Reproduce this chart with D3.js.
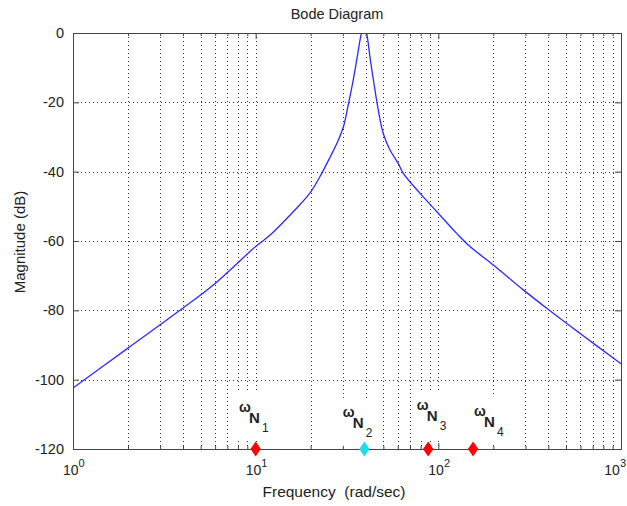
<!DOCTYPE html>
<html>
<head>
<meta charset="utf-8">
<script src="https://cdn.jsdelivr.net/npm/d3@7"></script>
<style>
  html, body { margin: 0; padding: 0; background: #fff; }
  svg { display: block; }
  text { font-family: "Liberation Sans", Arial, Helvetica, sans-serif; fill: #222; white-space: pre; }
</style>
</head>
<body>
<svg id="chart" width="627" height="506"></svg>
<script>
// ---- data ----
const freq = [1, 2, 3.85, 5.86, 10, 12, 16.1, 19.8, 22.5, 25.5, 28.3, 30.4, 32.1, 34.2, 36.0, 37.6, 39.2,
              40.8, 42.2, 44.4, 46.9, 49.9, 54.3, 60.3, 64.3, 79.3, 97.9, 126, 149, 200, 292, 392, 595, 1000];
const magDb = [-102.4, -90.9, -80.0, -72.7, -61.6, -58.3, -51.5, -46.2, -41.4, -35.9, -31.0, -26.6, -20.8, -13.6, -6.8, -1, 3,
               -1, -6.8, -14.5, -22.2, -28.9, -33.7, -37.6, -40.5, -46.2, -51.5, -57.8, -61.6, -66.9, -74.1, -79.4, -86.6, -95.4];

const markerFreq = [10, 39.4, 88, 155];
const markerColor = ["#ff0000", "#22dde6", "#ff0000", "#ff0000"];
const markerSub = ["1", "2", "3", "4"];
// annotation anchors (data coordinates: frequency, dB of the "N" baseline)
const labelFreq = [8.1, 30.0, 76.3, 156.6];
const labelDb = [-112.5, -113.9, -111.9, -113.6];

const xMajor = [1, 10, 100, 1000];
const xExp = ["0", "1", "2", "3"];
const yTicks = [-120, -100, -80, -60, -40, -20, 0];

const titleText = "Bode Diagram";
const xLabel = "Frequency  (rad/sec)";
const yLabel = "Magnitude (dB)";

// ---- layout ----
const L = 73, R = 621, T = 33, B = 449, W = 627;
const svg = d3.select("#chart");

const x = d3.scaleLog().domain([1, 1000]).range([L, R]);
const y = d3.scaleLinear().domain([-120, 0]).range([B, T]);

const allX = x.ticks(); // 1..9, 10..90, 100..1000
const minorX = allX.filter(v => !xMajor.includes(v));

// grid
const grid = svg.append("g").attr("stroke", "#333").attr("stroke-width", 1)
  .attr("stroke-dasharray", "1,3").attr("fill", "none");
grid.selectAll("line.v").data(allX.filter(v => v > 1 && v < 1000)).join("line")
  .attr("x1", d => Math.round(x(d)) + 0.5).attr("x2", d => Math.round(x(d)) + 0.5)
  .attr("y1", T).attr("y2", B);
grid.selectAll("line.h").data(yTicks.filter(v => v > -120 && v < 0)).join("line")
  .attr("x1", L).attr("x2", R)
  .attr("y1", d => Math.round(y(d)) + 0.5).attr("y2", d => Math.round(y(d)) + 0.5);

// curve
svg.append("clipPath").attr("id", "clip").append("rect")
  .attr("x", L).attr("y", T).attr("width", R - L).attr("height", B - T);
const pts = freq.map((f, i) => [f, magDb[i]]);
svg.append("path").datum(pts)
  .attr("clip-path", "url(#clip)")
  .attr("fill", "none").attr("stroke", "#2a2aff").attr("stroke-width", 1.3)
  .attr("d", d3.line().x(d => x(d[0])).y(d => y(d[1])).curve(d3.curveCatmullRom.alpha(0.5)));

// annotation labels with white background
const ann = svg.append("g");
markerFreq.forEach((mf, i) => {
  const g = ann.append("g");
  const ax = x(labelFreq[i]);
  const by = y(labelDb[i]);
  const bg = g.append("rect").attr("fill", "#fff");
  const t = g.append("text").attr("x", ax).attr("y", by - 11);
  t.append("tspan").text("ω").attr("font-size", "14px").attr("font-weight", "bold");
  t.append("tspan").text("N").attr("font-size", "15px").attr("font-weight", "bold")
    .attr("x", ax + 10).attr("y", by);
  t.append("tspan").text(markerSub[i]).attr("font-size", "12px")
    .attr("x", ax + 23).attr("y", by + 9);
  const bb = t.node().getBBox();
  bg.attr("x", bb.x - 3).attr("y", bb.y - 6).attr("width", bb.width + 6).attr("height", bb.height + 12);
});

// axes box
svg.append("rect").attr("x", L + 0.5).attr("y", T + 0.5).attr("width", R - L).attr("height", B - T)
  .attr("fill", "none").attr("stroke", "#444").attr("stroke-width", 1);

function styleAxis(g) {
  g.select(".domain").remove();
  g.selectAll(".tick line").attr("stroke", "#444");
}
// bottom/top ticks
svg.append("g").attr("transform", `translate(0,${B})`)
  .call(d3.axisBottom(x).tickValues(xMajor).tickSize(-6).tickFormat("")).call(styleAxis);
svg.append("g").attr("transform", `translate(0,${B})`)
  .call(d3.axisBottom(x).tickValues(minorX).tickSize(-3).tickFormat("")).call(styleAxis);
svg.append("g").attr("transform", `translate(0,${T})`)
  .call(d3.axisTop(x).tickValues(xMajor).tickSize(-6).tickFormat("")).call(styleAxis);
svg.append("g").attr("transform", `translate(0,${T})`)
  .call(d3.axisTop(x).tickValues(minorX).tickSize(-3).tickFormat("")).call(styleAxis);
// left/right ticks
const yl = svg.append("g").attr("transform", `translate(${L},0)`)
  .call(d3.axisLeft(y).tickValues(yTicks).tickSize(-6).tickPadding(9).tickFormat(d => String(d)))
  .call(styleAxis);
yl.selectAll(".tick text").attr("font-size", "14.5px").attr("fill", "#222")
  .attr("font-family", "Liberation Sans, Arial, sans-serif");
svg.append("g").attr("transform", `translate(${R},0)`)
  .call(d3.axisRight(y).tickValues(yTicks).tickSize(-6).tickFormat("")).call(styleAxis);

// x tick labels 10^n
const xl = svg.append("g");
xMajor.forEach((v, i) => {
  const t = xl.append("text").attr("x", x(v) - 10).attr("y", 475).attr("font-size", "14px");
  t.append("tspan").text("10");
  t.append("tspan").text(xExp[i]).attr("font-size", "11px").attr("dy", -8);
  const bb = t.node().getBBox();
  if (bb.x + bb.width > W - 1) t.attr("x", x(v) - 10 - (bb.x + bb.width - (W - 1)));
});

// markers
const diamond = d3.symbol().type(d3.symbolDiamond).size(70);
svg.append("g").selectAll("path").data(markerFreq).join("path")
  .attr("transform", d => `translate(${x(d)},${y(-120)}) scale(1.15,0.95)`)
  .attr("d", diamond)
  .attr("fill", (d, i) => markerColor[i]);

// titles
svg.append("text").attr("x", 337).attr("y", 19).attr("text-anchor", "middle")
  .attr("font-size", "14.5px").text(titleText);
svg.append("text").attr("x", 334).attr("y", 497).attr("text-anchor", "middle")
  .attr("font-size", "15.5px").text(xLabel);
svg.append("text").attr("transform", "translate(25,242) rotate(-90)").attr("text-anchor", "middle")
  .attr("font-size", "15px").text(yLabel);
</script>
</body>
</html>
